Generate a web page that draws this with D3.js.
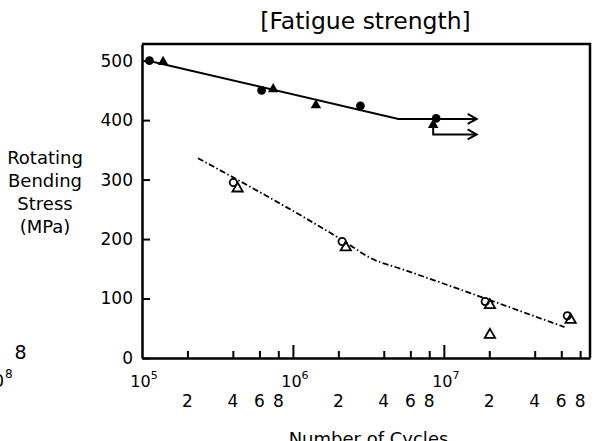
<!DOCTYPE html>
<meta charset="utf-8">
<script src="https://d3js.org/d3.v7.min.js"></script>
<style>
    body { margin: 0; background: #fff; }
    svg text { font-family: 'DejaVu Sans', Verdana, sans-serif; fill: #000; }
    .frame { stroke: #000; stroke-width: 2.5; fill: none; }
    .tick line { stroke: #000; stroke-width: 2; }
</style>
<svg id="chart" width="595" height="441"></svg>
<script>
    // --- data ---
    const filledCircleN = [1.12e5, 6.2e5, 2.8e6, 8.9e6];
    const filledCircleS = [500, 450, 424, 403];
    const filledTriN = [1.38e5, 7.4e5, 1.42e6, 8.5e6];
    const filledTriS = [498, 452, 425, 392];
    const solidLineN = [1.1e5, 5e6, 1.65e7];
    const solidLineS = [500, 402, 402];
    const runoutTriS = [392, 376];      // second run-out arrow (triangle)
    const arrowEndN = 1.65e7;

    const openCircleN = [4.03e5, 2.12e6, 1.88e7, 6.58e7];
    const openCircleS = [295, 196, 95, 71];
    const openTriN = [4.3e5, 2.24e6, 2.02e7, 2.02e7, 6.92e7];
    const openTriS = [285, 186, 89, 39, 64];
    const dashLineN = [2.35e5, 2.1e6, 3.4e6, 5.2e6, 6.3e7];
    const dashLineS = [336, 199, 166, 150, 52];

    const yTicks = [0, 100, 200, 300, 400, 500];
    const majorExp = [5, 6, 7];
    const minorMult = [2, 4, 6, 8];

    const svg = d3.select("#chart");
    const x = d3.scaleLog().domain([1e5, 9.3e7]).range([142, 590]);
    const y = d3.scaleLinear().domain([0, 528]).range([358, 44]);

    // title
    svg.append("text").attr("x", 365.5).attr("y", 29)
        .attr("text-anchor", "middle").style("font-size", "23.5px")
        .text("[Fatigue strength]");

    // y axis title
    const yTitle = svg.append("text").attr("text-anchor", "middle").style("font-size", "18px");
    ["Rotating", "Bending", "Stress", "(MPa)"].forEach((t, i) => {
        yTitle.append("tspan").attr("x", 45).attr("y", 164 + i * 23).text(t);
    });

    // fragments of the neighbouring chart at the left edge
    svg.append("text").attr("x", 20.5).attr("y", 359).attr("text-anchor", "middle")
        .style("font-size", "19px").text("8");
    svg.append("text").attr("x", 4).attr("y", 387).attr("text-anchor", "end")
        .style("font-size", "17px").text("10");
    svg.append("text").attr("x", 5).attr("y", 378)
        .style("font-size", "12px").text("8");

    // y axis
    const gy = svg.append("g").attr("transform", `translate(${x.range()[0]},0)`)
        .call(d3.axisLeft(y).tickValues(yTicks).tickSizeInner(-8).tickSizeOuter(0).tickPadding(9));
    gy.select(".domain").attr("class", "frame");
    gy.selectAll("text").style("font-size", "17px").attr("font-family", null);

    // x axis: minor ticks
    const minors = [];
    majorExp.forEach(e => minorMult.forEach(m => minors.push(m * Math.pow(10, e))));
    const gxMinor = svg.append("g").attr("transform", `translate(0,${y(0)})`)
        .call(d3.axisBottom(x).tickValues(minors).tickSizeInner(-7).tickSizeOuter(0).tickFormat(""));
    gxMinor.select(".domain").attr("class", "frame");
    const gxMajor = svg.append("g").attr("transform", `translate(0,${y(0)})`)
        .call(d3.axisBottom(x).tickValues(majorExp.slice(1).map(e => Math.pow(10, e))).tickSizeInner(-13).tickSizeOuter(0).tickFormat(""));
    gxMajor.select(".domain").remove();

    // minor labels
    svg.append("g").selectAll("text").data(minors).join("text")
        .attr("x", d => x(d)).attr("y", 407).attr("text-anchor", "middle")
        .style("font-size", "17px")
        .text(d => Math.round(d / Math.pow(10, Math.floor(Math.log10(d)))));

    // major labels 10^n
    majorExp.forEach(e => {
        const t = svg.append("text").attr("x", x(Math.pow(10, e)) + 2).attr("y", 387)
            .attr("text-anchor", "middle").style("font-size", "16px");
        t.append("tspan").text("10");
        t.append("tspan").attr("dy", -8).style("font-size", "11px").text(e);
    });

    svg.append("text").attr("x", 368.5).attr("y", 445).attr("text-anchor", "middle")
        .style("font-size", "18px").text("Number of Cycles");

    // top and right borders
    svg.append("path").attr("class", "frame")
        .attr("d", `M${x.range()[0]},${y(528)}H${x.range()[1]}V${y(0)}`);

    // solid S-N line with run-out arrows
    const line = d3.line().x(d => x(d[0])).y(d => y(d[1]));
    svg.append("path").datum(solidLineN.map((n, i) => [n, solidLineS[i]]))
        .attr("d", line).attr("fill", "none").attr("stroke", "#000").attr("stroke-width", 2);
    svg.append("path").datum([[filledTriN[3], runoutTriS[0]], [filledTriN[3], runoutTriS[1]], [arrowEndN, runoutTriS[1]]])
        .attr("d", line).attr("fill", "none").attr("stroke", "#000").attr("stroke-width", 2);
    [solidLineS[2], runoutTriS[1]].forEach(s => {
        const ax = x(arrowEndN), ay = y(s);
        svg.append("path").attr("d", `M${ax - 9},${ay - 5}L${ax},${ay}L${ax - 9},${ay + 5}`)
            .attr("fill", "none").attr("stroke", "#000").attr("stroke-width", 2);
    });

    // dash-dot line
    svg.append("path").datum(dashLineN.map((n, i) => [n, dashLineS[i]]))
        .attr("d", line.curve(d3.curveMonotoneX)).attr("fill", "none").attr("stroke", "#000")
        .attr("stroke-width", 1.8).attr("stroke-dasharray", "6,2.5,1.5,2.5");

    // markers
    const circ = d3.symbol().type(d3.symbolCircle);
    const tri = d3.symbol().type(d3.symbolTriangle);
    svg.append("g").selectAll("path").data(filledCircleN).join("path")
        .attr("transform", (d, i) => `translate(${x(d)},${y(filledCircleS[i])})`)
        .attr("d", circ.size(60)()).attr("fill", "#000");
    svg.append("g").selectAll("path").data(filledTriN).join("path")
        .attr("transform", (d, i) => `translate(${x(d)},${y(filledTriS[i])})`)
        .attr("d", tri.size(48)()).attr("fill", "#000");
    svg.append("g").selectAll("path").data(openCircleN).join("path")
        .attr("transform", (d, i) => `translate(${x(d)},${y(openCircleS[i])})`)
        .attr("d", circ.size(42)()).attr("fill", "#fff").attr("stroke", "#000").attr("stroke-width", 1.8);
    svg.append("g").selectAll("path").data(openTriN).join("path")
        .attr("transform", (d, i) => `translate(${x(d)},${y(openTriS[i])})`)
        .attr("d", tri.size(46)()).attr("fill", "none").attr("stroke", "#000").attr("stroke-width", 1.8);
</script>
